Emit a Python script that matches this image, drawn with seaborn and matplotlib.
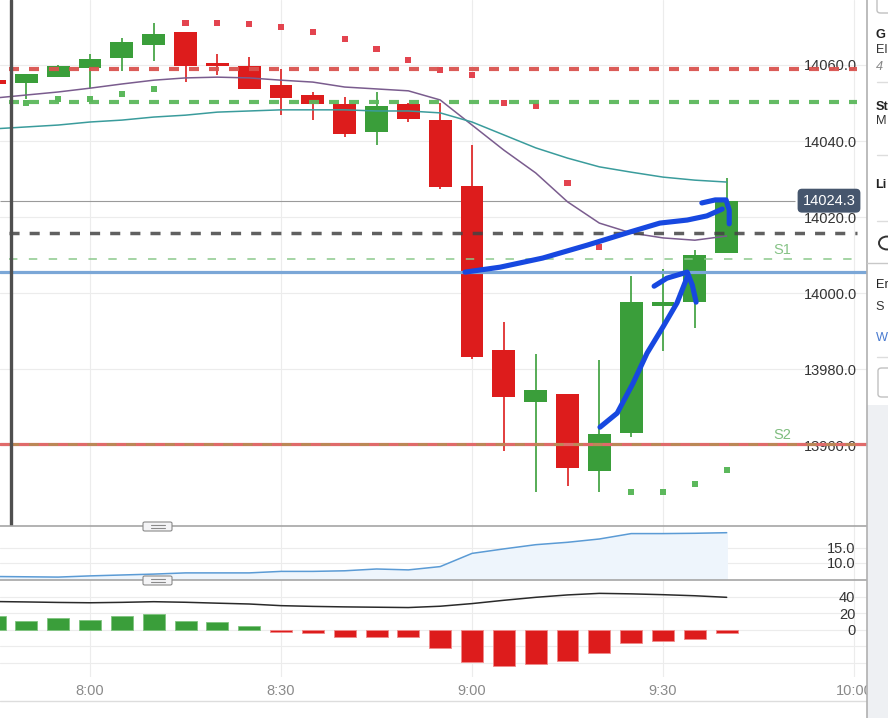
import matplotlib
matplotlib.use("Agg")
import matplotlib.pyplot as plt
import matplotlib.transforms as mtransforms
from matplotlib.lines import Line2D
from matplotlib.patches import Rectangle, FancyBboxPatch, Circle
import numpy as np
import pandas as pd
import seaborn as sns

# 5-minute bars
times = ["7:45", "7:50", "7:55", "8:00", "8:05", "8:10", "8:15", "8:20", "8:25",
         "8:30", "8:35", "8:40", "8:45", "8:50", "8:55", "9:00", "9:05", "9:10",
         "9:15", "9:20", "9:25", "9:30", "9:35", "9:40"]
opens = [14056.1, 14055.3, 14056.8, 14059.2, 14061.8, 14065.3, 14068.7, 14060.5,
         14059.7, 14054.7, 14052.1, 14049.7, 14042.4, 14049.7, 14045.5, 14028.2,
         13985.0, 13971.3, 13973.4, 13953.2, 13963.2, 13996.6, 13997.6, 14010.5]
highs = [14056.3, 14057.6, 14060.0, 14062.9, 14067.1, 14071.1, 14068.7, 14062.9,
         14062.1, 14058.9, 14052.9, 14051.6, 14052.9, 14050.0, 14050.0, 14039.0,
         13992.4, 13984.0, 13973.4, 13982.4, 14004.5, 14006.3, 14011.3, 14030.3]
lows = [14055.0, 14051.1, 14056.8, 14053.9, 14058.4, 14061.0, 14055.5, 14057.4,
        14053.7, 14046.8, 14045.5, 14041.0, 14038.9, 14045.0, 14027.4, 13982.6,
        13958.4, 13947.6, 13949.2, 13947.6, 13962.1, 13984.7, 13990.8, 14010.5]
closes = [14055.1, 14057.6, 14059.7, 14061.6, 14066.1, 14068.2, 14059.7, 14059.7,
          14053.7, 14051.3, 14049.7, 14041.8, 14049.2, 14045.8, 14027.9, 13983.2,
          13972.6, 13974.5, 13953.9, 13962.9, 13997.6, 13997.6, 14010.0, 14024.3]

ma_fast = [14051.3, 14052.1, 14052.9, 14053.9, 14055.0, 14056.0, 14056.6, 14056.8,
           14056.6, 14056.0, 14055.5, 14054.2, 14053.7, 14053.2, 14050.8, 14044.2,
           14037.6, 14031.6, 14024.0, 14018.4, 14015.8, 14014.5, 14013.9, 14015.0]
ma_slow = [14043.2, 14043.7, 14044.2, 14045.0, 14045.5, 14046.3, 14046.8, 14047.6,
           14047.9, 14048.2, 14048.2, 14048.2, 14047.9, 14047.9, 14047.4, 14045.0,
           14041.6, 14038.2, 14035.5, 14033.2, 14031.8, 14030.5, 14029.7, 14029.2]

psar = [np.nan, 14050.0, 14051.1, 14051.1, 14052.4, 14053.7, 14071.1, 14071.1,
        14070.8, 14070.0, 14068.7, 14066.8, 14064.2, 14061.3, 14058.7, 14057.4,
        14050.0, 14049.2, 14028.9, 14012.1, 13947.6, 13947.6, 13949.7, 13953.4]
psar_side = ["", "below", "below", "below", "below", "below", "above", "above",
             "above", "above", "above", "above", "above", "above", "above", "above",
             "above", "above", "above", "above", "below", "below", "below", "below"]

atr = [5.5, 5.4, 5.3, 5.7, 6.0, 6.3, 6.7, 6.7, 6.7, 7.2, 7.2, 7.4, 8.0, 7.7,
       8.8, 13.2, 14.7, 16.1, 16.9, 18.0, 19.8, 19.8, 19.9, 20.1]
osc_line = [34.5, 34.0, 33.4, 33.0, 33.5, 34.3, 33.6, 32.5, 31.5, 29.5, 28.6, 28.0,
            27.6, 27.2, 28.8, 32.0, 36.0, 39.6, 42.5, 44.4, 43.8, 42.8, 41.5, 39.6]
osc_hist = [17.0, 11.3, 14.1, 12.5, 16.6, 19.4, 10.7, 9.7, 4.8, -2.6, -4.0, -8.1,
            -8.9, -8.9, -21.4, -38.4, -43.6, -41.6, -37.2, -28.3, -15.8, -13.7,
            -10.5, -3.2]

# horizontal levels
resist_dash = 14059.0
support_dash = 14050.3
pivot_dash = 14015.8
s1_level = 14008.9
blue_level = 14005.5
s2_level = 13960.3
last_price = 14024.3

session_break = "7:47.6"
price_ticks = [13960, 13980, 14000, 14020, 14040, 14060]
time_ticks = ["8:00", "8:30", "9:00", "9:30", "10:00"]

# hand-drawn strokes (time, price)
stroke_a_t = ["8:58.9", "9:04.4", "9:11.1", "9:18.1", "9:24.3", "9:29.5", "9:33.8", "9:36.9", "9:39.3"]
stroke_a_p = [14005.5, 14006.8, 14009.2, 14012.6, 14015.8, 14018.4, 14019.2, 14020.3, 14022.1]
hook_a_t = ["9:36.1", "9:38.2", "9:39.9", "9:40.4", "9:40.4"]
hook_a_p = [14023.7, 14024.5, 14024.5, 14021.8, 14018.2]
stroke_b_t = ["9:20.1", "9:22.8", "9:25.3", "9:27.5", "9:30.0", "9:32.2", "9:33.8"]
stroke_b_p = [13964.7, 13968.4, 13976.3, 13984.2, 13991.1, 13997.4, 14004.2]
hook_b_t = ["9:28.6", "9:30.6", "9:33.8", "9:34.6", "9:35.2"]
hook_b_p = [14001.8, 14003.9, 14005.5, 14002.1, 13997.6]

GREEN = "#3a9e3a"
RED = "#dd1c1c"


def to_min(t):
    h, m = t.split(":")
    return (int(h) - 8) * 60 + float(m)


x = np.array([to_min(t) for t in times])
df = pd.DataFrame({"t": x, "fast": ma_fast, "slow": ma_slow, "atr": atr,
                   "osc": osc_line, "hist": osc_hist, "psar": psar, "side": psar_side})

sns.set_theme(style="white")
plt.rcParams["font.family"] = ["Liberation Sans", "DejaVu Sans"]

W, H = 888, 718
fig = plt.figure(figsize=(W / 100, H / 100), dpi=100)


def box(left, top, right, bottom):
    return [left / W, 1 - bottom / H, (right - left) / W, (bottom - top) / H]


ax1 = fig.add_axes(box(0, 0, 867, 526))
ax2 = fig.add_axes(box(0, 526, 867, 580), sharex=ax1)
ax3 = fig.add_axes(box(0, 580, 867, 677), sharex=ax1)

ax1.set_xlim(to_min("7:45.86"), to_min("10:02.04"))
ax1.set_ylim(13938.7, 14077.1)
ax2.set_ylim(4.33, 22.33)
ax3.set_ylim(-57.0, 60.6)

for ax in (ax1, ax2, ax3):
    ax.set_facecolor("white")
    ax.grid(True, color="#ececec", lw=0.8)
    ax.set_axisbelow(True)
    for s in ax.spines.values():
        s.set_visible(False)
for ax in (ax2, ax3):
    ax.spines["top"].set_visible(True)
    ax.spines["top"].set_color("#a5a5a5")
    ax.spines["top"].set_linewidth(1.2)


def right_labels(ax, ticks, labels, pad):
    ax.yaxis.tick_right()
    ax.set_yticks(ticks)
    ax.set_yticklabels(labels)
    ax.tick_params(axis="y", length=0, pad=pad, labelsize=10.5, labelcolor="#333333")
    for lab in ax.get_yticklabels():
        lab.set_horizontalalignment("right")


right_labels(ax1, price_ticks, [f"{v:.1f}" for v in price_ticks], -7.3)
right_labels(ax2, [10, 15], ["10.0", "15.0"], -8.5)
right_labels(ax3, [-40, -20, 0, 20, 40], ["", "", "0", "20", "40"], -8.5)

ax3.set_xticks([to_min(t) for t in time_ticks])
ax3.set_xticklabels(time_ticks)
ax3.tick_params(axis="x", length=0, pad=5, labelsize=10.5, labelcolor="#8a8a8a")
ax1.tick_params(axis="x", length=0, labelbottom=False)
ax2.tick_params(axis="x", length=0, labelbottom=False)

# candles
o, h, l, c = map(np.array, (opens, highs, lows, closes))
colors = np.where(c >= o, GREEN, RED)
ax1.vlines(x, l, h, colors=colors, lw=1.2, zorder=2)
ax1.bar(x, np.maximum(np.abs(c - o), 0.7), width=3.6, bottom=np.minimum(o, c),
        color=colors, linewidth=0, zorder=2.1)

# moving averages and parabolic SAR
sns.lineplot(data=df, x="t", y="fast", ax=ax1, color="#7a5c8e", lw=1.1, zorder=3)
sns.lineplot(data=df, x="t", y="slow", ax=ax1, color="#3a9c9c", lw=1.1, zorder=3)
sns.scatterplot(data=df.dropna(subset=["psar"]), x="t", y="psar", hue="side",
                palette={"below": "#5cb85c", "above": "#e3444f"}, marker="s", s=20,
                linewidth=0, legend=False, ax=ax1, zorder=3)

# levels
x0 = to_min(session_break) - 0.4
x1 = to_min("10:00.5")
ax1.axhline(blue_level, color="#7ba7d7", lw=2.3, zorder=4)
ax1.axhline(s2_level, color="#e06a6a", lw=2.3, zorder=4)
ax1.hlines(s2_level, x0, x1, colors="#b98a55", lw=2.0, linestyles=(0, (3.5, 3.5)), zorder=4.1)
ax1.hlines(resist_dash, x0, x1, colors="#d9534f", lw=3.0, linestyles=(0, (2.4, 2.4)), alpha=0.95, zorder=4)
ax1.hlines(support_dash, x0, x1, colors="#5cb85c", lw=3.0, linestyles=(0, (2.4, 2.4)), alpha=0.95, zorder=4)
ax1.hlines(pivot_dash, x0, x1, colors="#444444", lw=2.5, linestyles=(0, (2.9, 2.9)), alpha=0.85, zorder=4)
ax1.hlines(s1_level, x0, x1, colors="#8cc98c", lw=1.1, linestyles=(0, (5.5, 7.5)), zorder=4)
ax1.hlines(last_price, ax1.get_xlim()[0], to_min("9:50.7"), colors="#9a9a9a", lw=0.8, zorder=1.5)
ax1.axvline(to_min(session_break), color="#4f4f4f", lw=2.4, zorder=5)

ax1.text(to_min("9:48.8"), 14011.3, "S1", color="#86c386", fontsize=10.5, ha="center", va="center", zorder=5)
ax1.text(to_min("9:48.8"), 13962.6, "S2", color="#7fbd7f", fontsize=10.5, ha="center", va="center", zorder=5)

trans = mtransforms.blended_transform_factory(ax1.transAxes, ax1.transData)
ax1.text(829 / 867, last_price, f"{last_price:.1f}", transform=trans, ha="center", va="center",
         color="white", fontsize=10.5, zorder=7,
         bbox=dict(boxstyle="round,pad=0.34,rounding_size=0.3", fc="#46566d", ec="none"))

# hand-drawn blue arrows
for st_t, st_p in [(stroke_a_t, stroke_a_p), (hook_a_t, hook_a_p),
                   (stroke_b_t, stroke_b_p), (hook_b_t, hook_b_p)]:
    ax1.plot([to_min(t) for t in st_t], st_p, color="#1748e0", lw=3.7,
             solid_capstyle="round", solid_joinstyle="round", zorder=9)

# volatility panel
sns.lineplot(data=df, x="t", y="atr", ax=ax2, color="#5b9bd5", lw=1.1, zorder=3)
ax2.fill_between(x, atr, ax2.get_ylim()[0], color="#eef5fc", zorder=1)

# oscillator panel
sns.lineplot(data=df, x="t", y="osc", ax=ax3, color="#2a2a2a", lw=1.1, zorder=3)
hist = np.array(osc_hist)
ax3.bar(x, hist, width=3.45, color=np.where(hist >= 0, GREEN, RED),
        edgecolor=np.where(hist >= 0, "#7fc47f", "#f08a8a"), linewidth=0.6, zorder=2)

for ax in (ax1, ax2, ax3):
    ax.set_xlabel("")
    ax.set_ylabel("")

# window chrome
fig.add_artist(Line2D([0, 867 / W], [1 - 701 / H] * 2, color="#dddddd", lw=1))
fig.add_artist(Rectangle((867 / W, 0), 21 / W, 1, transform=fig.transFigure,
                         fc="white", ec="none", zorder=10))
fig.add_artist(Rectangle((867 / W, 0), 21 / W, 1 - 405 / H, transform=fig.transFigure,
                         fc="#eef0f3", ec="none", zorder=10))
fig.add_artist(Line2D([867 / W] * 2, [0, 1], color="#b0b0b0", lw=1.2, zorder=11))

for top in (526, 580):
    fig.add_artist(FancyBboxPatch((143 / W, 1 - (top + 5) / H), 29 / W, 9 / H,
                                  boxstyle="round,pad=0,rounding_size=0.002",
                                  transform=fig.transFigure, fc="#f4f4f6", ec="#8a8a8a",
                                  lw=0.8, zorder=11))
    for dy in (-1.5, 1.5):
        fig.add_artist(Line2D([151 / W, 165 / W], [1 - (top + dy) / H] * 2,
                              color="#8a8a8a", lw=0.8, zorder=12))

side_x = 875.5 / W
side_items = [("G", 35, "bold", "normal", "#222222"),
              ("El", 50, "normal", "normal", "#333333"),
              ("4", 67, "normal", "italic", "#888888"),
              ("St", 107, "bold", "normal", "#222222"),
              ("M", 121, "normal", "normal", "#333333"),
              ("Li", 185, "bold", "normal", "#222222"),
              ("Er", 285, "normal", "normal", "#222222"),
              ("S", 307, "normal", "normal", "#333333"),
              ("W", 338, "normal", "normal", "#4a7bd0")]
for txt, yy, wt, st, col in side_items:
    fig.text(side_x, 1 - yy / H, txt, fontsize=9.2, fontweight=wt, fontstyle=st,
             color=col, va="center", ha="left", zorder=12)
for yy in (82, 155, 221, 357):
    fig.add_artist(Line2D([877 / W, 1], [1 - yy / H] * 2, color="#dddddd", lw=1, zorder=12))
fig.add_artist(Line2D([867 / W, 1], [1 - 263 / H] * 2, color="#c8c8c8", lw=1, zorder=12))
fig.add_artist(Circle((887 / W, 1 - 243 / H), 8 / W, transform=fig.transFigure,
                      fc="none", ec="#333333", lw=1.4, zorder=12))
fig.add_artist(FancyBboxPatch((878 / W, 1 - 397 / H), 30 / W, 29 / H,
                              boxstyle="round,pad=0,rounding_size=0.004",
                              transform=fig.transFigure, fc="white", ec="#c0c0c0",
                              lw=1, zorder=12))
fig.add_artist(FancyBboxPatch((877 / W, 1 - 13 / H), 30 / W, 20 / H,
                              boxstyle="round,pad=0,rounding_size=0.004",
                              transform=fig.transFigure, fc="white", ec="#c0c0c0",
                              lw=1, zorder=12))

fig.savefig("out.png", dpi=100)
